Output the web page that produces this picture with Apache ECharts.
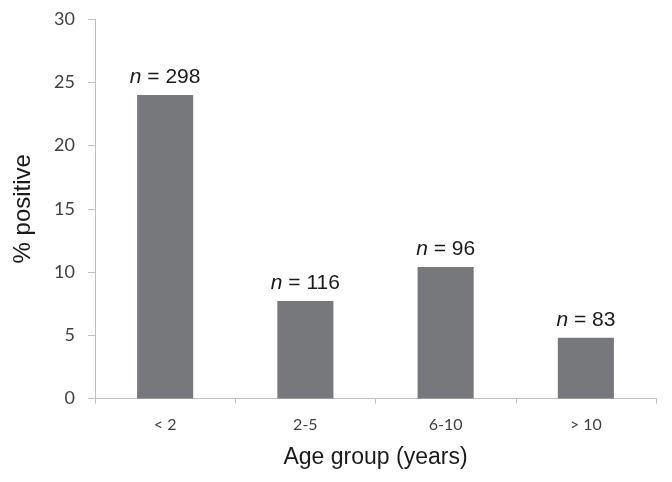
<!DOCTYPE html>
<html>
<head>
<meta charset="utf-8">
<script src="https://cdn.jsdelivr.net/npm/echarts@6/dist/echarts.min.js"></script>
<style>html,body{margin:0;padding:0;background:#fff;}#c{width:672px;height:482px;}</style>
</head>
<body>
<div id="c"></div>
<script>
const categories = ['< 2', '2-5', '6-10', '> 10'];
const percentPositive = [24.0, 7.7, 10.4, 4.8];
const sampleSizes = [298, 116, 96, 83];
const yTicks = { min: 0, max: 30, interval: 5 };

const chart = echarts.init(document.getElementById('c'), null, { renderer: 'canvas' });
chart.setOption({
  animation: false,
  backgroundColor: '#ffffff',
  grid: { left: 95, right: 16, top: 19, bottom: 83.5, containLabel: false },
  xAxis: {
    type: 'category',
    data: categories,
    name: 'Age group (years)',
    nameLocation: 'middle',
    nameGap: 48,
    nameTextStyle: { fontFamily: 'Liberation Sans', fontSize: 23, color: '#1a1a1a' },
    axisLine: { show: true, lineStyle: { color: '#bfbfbf', width: 1 } },
    axisTick: { show: true, alignWithLabel: false, length: 5, lineStyle: { color: '#bfbfbf' } },
    axisLabel: { margin: 18, fontFamily: 'Lato', fontSize: 16, color: '#404040' }
  },
  yAxis: {
    type: 'value',
    min: yTicks.min, max: yTicks.max, interval: yTicks.interval,
    name: '% positive',
    nameLocation: 'middle',
    nameGap: 60,
    nameTextStyle: { fontFamily: 'Liberation Sans', fontSize: 24, color: '#1a1a1a' },
    axisLine: { show: true, lineStyle: { color: '#bfbfbf', width: 1 } },
    axisTick: { show: true, length: 7, lineStyle: { color: '#bfbfbf' } },
    splitLine: { show: false },
    axisLabel: { margin: 20, fontFamily: 'Lato', fontSize: 18, color: '#404040' }
  },
  series: [{
    type: 'bar',
    data: percentPositive,
    barWidth: '40%',
    itemStyle: { color: '#77787b' },
    label: {
      show: true,
      position: 'top',
      distance: 7,
      formatter: function (p) { return '{i|n}{r| = ' + sampleSizes[p.dataIndex] + '}'; },
      rich: {
        i: { fontFamily: 'Liberation Sans', fontStyle: 'italic', fontSize: 21, color: '#1a1a1a' },
        r: { fontFamily: 'Liberation Sans', fontSize: 21, color: '#1a1a1a' }
      }
    }
  }]
});
</script>
</body>
</html>
